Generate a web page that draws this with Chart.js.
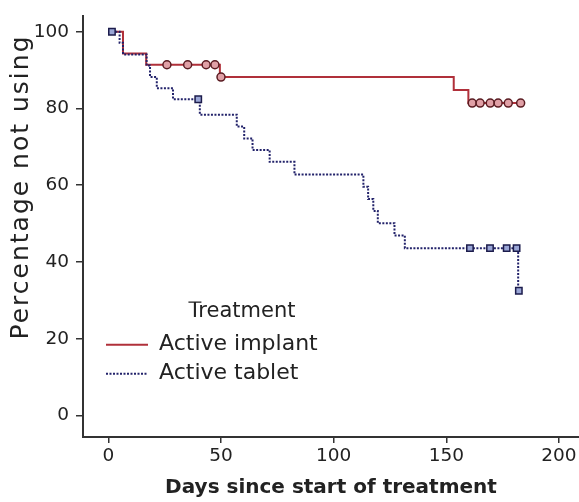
<!DOCTYPE html>
<html>
<head>
<meta charset="utf-8">
<script src="https://cdn.jsdelivr.net/npm/chart.js@4.4.1/dist/chart.umd.min.js"></script>
<style>
  html, body { margin: 0; padding: 0; background: #ffffff; }
  #wrap { width: 579px; height: 502px; position: relative; }
</style>
</head>
<body>
<div id="wrap"><canvas id="km"></canvas></div>
<script>
// Kaplan–Meier curves: percentage of participants not using, by treatment arm

const treatments = ['Active implant', 'Active tablet'];

// Implant arm: step times (days) and percentage after each step
const implantDays = [0, 6.5, 16.8, 49.5, 153.3, 159.8, 183];
const implantPct  = [100, 94.3, 91.4, 88.2, 84.8, 81.4, 81.4];
// Implant arm: censored observations
const implantCensorDays = [26, 35.2, 43.4, 47.3, 50, 161.5, 165, 169.5, 173, 177.5, 183];
const implantCensorPct  = [91.4, 91.4, 91.4, 91.4, 88.2, 81.4, 81.4, 81.4, 81.4, 81.4, 81.4];

// Tablet arm: step times (days) and percentage after each step
const tabletDays = [0, 5, 6.5, 17, 18.5, 21.5, 28.7, 40.6, 57, 60.3, 64, 71.6, 82.6,
                    113.2, 115.3, 117.6, 119.6, 127, 131.6, 181.9];
const tabletPct  = [100, 97.1, 94.1, 91.2, 88.2, 85.3, 82.4, 78.4, 75.3, 72.2, 69.2, 66.1, 62.8,
                    59.6, 56.4, 53.3, 50.1, 46.9, 43.6, 32.5];
// Tablet arm: censored observations
const tabletCensorDays = [1.6, 39.9, 160.5, 169.4, 176.8, 181.2, 182.2];
const tabletCensorPct  = [100, 82.4, 43.6, 43.6, 43.6, 43.6, 32.5];

const xTicks = [0, 50, 100, 150, 200];
const yTicks = [0, 20, 40, 60, 80, 100];

const pts = (xs, ys) => xs.map((x, i) => ({ x: x, y: ys[i] }));

const AXIS = '#333333';
const TEXT = '#222222';
const RED = '#b0303a';
const NAVY = '#22226a';
const FONT = 'DejaVu Sans';

// Wider spacing and a slightly raised position for the vertical axis title
const yTitleStyle = {
  id: 'yTitleStyle',
  beforeDraw(chart) {
    const s = chart.scales.y;
    if (s._styledTitle) return;
    const draw = s.drawTitle;
    s.drawTitle = function () {
      const ctx = this.ctx;
      ctx.save();
      ctx.translate(0, -39.5);
      if ('letterSpacing' in ctx) ctx.letterSpacing = '2px';
      draw.call(this);
      ctx.restore();
    };
    s._styledTitle = true;
  }
};

// Place the legend block inside the plot, lower left
const legendBox = {
  id: 'legendBox',
  afterLayout(chart) {
    const lg = chart.legend;
    lg.left = 99;
    lg.top = 301.5;
    lg.width = 286;
    lg.right = lg.left + lg.width;
    lg.height = 120;
    lg.bottom = lg.top + lg.height;
  }
};

new Chart(document.getElementById('km'), {
  type: 'line',
  data: {
    datasets: [
      {
        label: treatments[0],
        data: pts(implantDays, implantPct),
        stepped: 'before',
        borderColor: RED,
        borderWidth: 2,
        pointRadius: 0,
        fill: false,
        order: 3
      },
      {
        label: treatments[1],
        data: pts(tabletDays, tabletPct),
        stepped: 'before',
        borderColor: NAVY,
        borderWidth: 2,
        borderDash: [2, 1.5],
        pointRadius: 0,
        fill: false,
        order: 2
      },
      {
        label: treatments[0] + ' (censored)',
        data: pts(implantCensorDays, implantCensorPct),
        showLine: false,
        pointStyle: 'circle',
        pointRadius: 4,
        pointBorderWidth: 1.5,
        pointBorderColor: '#5a1c22',
        pointBackgroundColor: '#e0a0a6',
        order: 1
      },
      {
        label: treatments[1] + ' (censored)',
        data: pts(tabletCensorDays, tabletCensorPct),
        showLine: false,
        pointStyle: 'rect',
        pointRadius: 4.5,
        pointBorderWidth: 1.5,
        pointBorderColor: '#1c1c4c',
        pointBackgroundColor: '#9aa6d6',
        order: 0
      }
    ]
  },
  options: {
    responsive: true,
    maintainAspectRatio: false,
    animation: false,
    devicePixelRatio: 1,
    layout: { autoPadding: false, padding: { top: 16, right: 0, bottom: 0, left: 0 } },
    plugins: {
      tooltip: { enabled: false },
      legend: {
        display: true,
        position: 'chartArea',
        align: 'start',
        title: {
          display: true,
          text: 'Treatment',
          position: 'center',
          color: TEXT,
          font: { family: FONT, size: 21 },
          padding: 0
        },
        labels: {
          filter: (item) => item.datasetIndex < 2,
          sort: (a, b) => a.datasetIndex - b.datasetIndex,
          generateLabels: (chart) => {
            const items = Chart.defaults.plugins.legend.labels.generateLabels(chart);
            items.forEach((it) => {
              const ds = chart.data.datasets[it.datasetIndex];
              it.lineDash = ds.borderDash || [];
              it.strokeStyle = ds.borderColor;
              it.lineWidth = ds.borderWidth;
            });
            return items;
          },
          usePointStyle: true,
          pointStyle: 'line',
          pointStyleWidth: 42,
          padding: 7,
          color: TEXT,
          font: { family: FONT, size: 22 }
        }
      }
    },
    scales: {
      x: {
        type: 'linear',
        min: -11.25,
        max: 208.9,
        afterBuildTicks: (s) => { s.ticks = xTicks.map((v) => ({ value: v })); },
        afterFit: (s) => { s.height = 65; s.paddingLeft = 0; s.paddingRight = 0; },
        grid: { display: true, drawOnChartArea: false, drawTicks: true, tickLength: 6, color: AXIS, lineWidth: 1.5 },
        border: { display: true, color: AXIS, width: 2 },
        ticks: { color: TEXT, font: { family: FONT, size: 18.5 }, padding: 2, maxRotation: 0, autoSkip: false },
        title: {
          display: true,
          text: 'Days since start of treatment',
          color: TEXT,
          font: { family: FONT, size: 20, weight: 'bold' },
          padding: { top: 0, bottom: 2 }
        }
      },
      y: {
        type: 'linear',
        min: -5.6,
        max: 104.1,
        afterBuildTicks: (s) => { s.ticks = yTicks.map((v) => ({ value: v })); },
        afterFit: (s) => { s.width = 83; s.paddingTop = 0; s.paddingBottom = 0; },
        grid: { display: true, drawOnChartArea: false, drawTicks: true, tickLength: 7, color: AXIS, lineWidth: 1.5 },
        border: { display: true, color: AXIS, width: 2 },
        ticks: { color: TEXT, font: { family: FONT, size: 18.5 }, padding: 7 },
        title: {
          display: true,
          text: 'Percentage not using',
          color: TEXT,
          font: { family: FONT, size: 25 },
          padding: { top: 6, bottom: 0 }
        }
      }
    }
  },
  plugins: [yTitleStyle, legendBox]
});
</script>
</body>
</html>
